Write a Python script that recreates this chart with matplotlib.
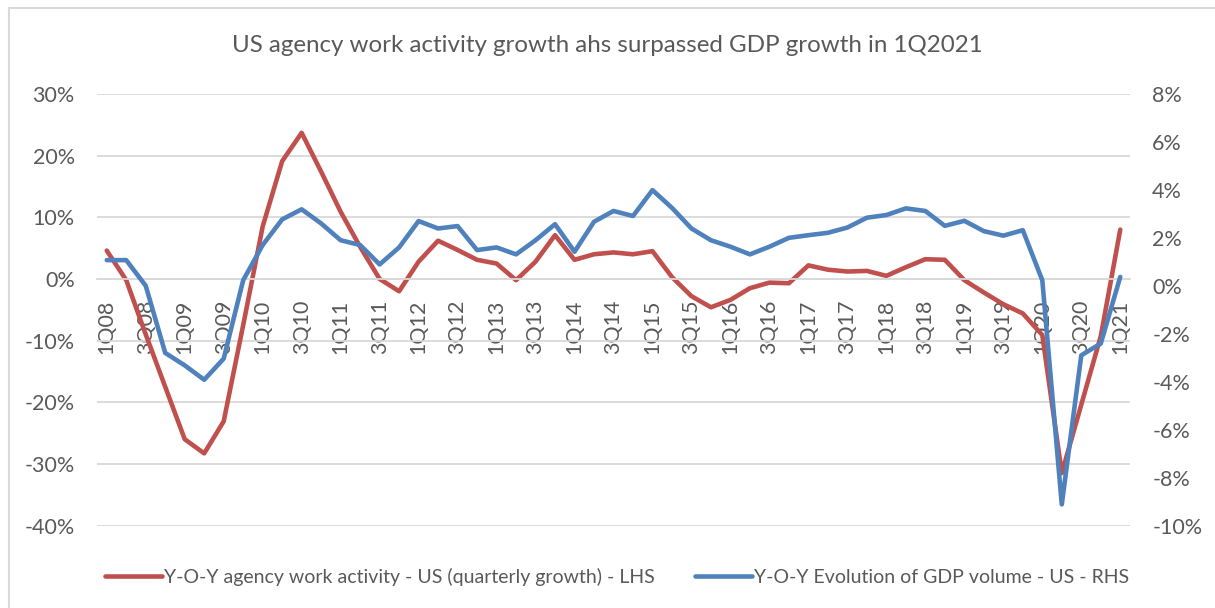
import matplotlib.pyplot as plt
from matplotlib.patches import Rectangle
from matplotlib.ticker import FuncFormatter

# quarters 1Q08 .. 1Q21
quarters = [f"{q}Q{y:02d}" for y in range(8, 21) for q in range(1, 5)] + ["1Q21"]

# Y-O-Y agency work activity, % (left axis)
agency = [4.6, -0.2, -9.0, -17.5,
          -26.0, -28.3, -23.1, -7.5,
          8.5, 19.1, 23.7, 17.4,
          10.9, 5.2, 0.0, -2.0,
          2.8, 6.2, 4.7, 3.1,
          2.5, -0.2, 2.8, 7.1,
          3.1, 4.0, 4.3, 4.0,
          4.5, 0.3, -2.8, -4.6,
          -3.4, -1.5, -0.6, -0.7,
          2.2, 1.5, 1.2, 1.3,
          0.5, 1.9, 3.2, 3.1,
          -0.2, -2.2, -4.1, -5.6,
          -9.1, -31.5, -20.4, -9.3,
          8.0]

# Y-O-Y GDP volume, % (right axis)
gdp = [1.07, 1.07, 0.0, -2.8,
       -3.32, -3.92, -3.04, 0.23,
       1.7, 2.77, 3.19, 2.6,
       1.9, 1.7, 0.89, 1.6,
       2.7, 2.39, 2.49, 1.49,
       1.6, 1.31, 1.9, 2.57,
       1.42, 2.67, 3.12, 2.91,
       3.99, 3.25, 2.39, 1.9,
       1.63, 1.31, 1.63, 2.0,
       2.11, 2.21, 2.43, 2.84,
       2.95, 3.23, 3.12, 2.5,
       2.71, 2.28, 2.09, 2.32,
       0.23, -9.12, -2.9, -2.41,
       0.37]

left_ticks = [30, 20, 10, 0, -10, -20, -30, -40]
right_ticks = [8, 6, 4, 2, 0, -2, -4, -6, -8, -10]

plt.rcParams['font.family'] = ['Lato', 'DejaVu Sans']
txt = '#595959'
grid = '#d9d9d9'
red = '#c0504d'
blue = '#4f81bd'

fig = plt.figure(figsize=(12.15, 6.08), dpi=100)
ax = fig.add_axes([97 / 1215, 1 - 525.5 / 608, (1130 - 97) / 1215, (525.5 - 94) / 608])
ax2 = ax.twinx()

x = list(range(len(quarters)))
l1, = ax.plot(x, agency, color=red, lw=3.3, solid_capstyle='round',
              label='Y-O-Y agency work activity - US (quarterly growth) - LHS')
l2, = ax2.plot(x, gdp, color=blue, lw=3.3, solid_capstyle='round',
               label='Y-O-Y Evolution of GDP volume - US - RHS')

ax.set_xlim(-0.5, len(quarters) - 0.5)
ax.set_ylim(-40, 30)
ax2.set_ylim(-10, 8)
ax.set_yticks(left_ticks)
ax2.set_yticks(right_ticks)
ax.yaxis.set_major_formatter(FuncFormatter(lambda v, p: f"{v:.0f}%"))
ax2.yaxis.set_major_formatter(FuncFormatter(lambda v, p: f"{v:.0f}%"))
ax.grid(axis='y', color=grid, lw=1.3)
ax.set_axisbelow(True)

for a in (ax, ax2):
    for s in a.spines.values():
        s.set_visible(False)
    a.tick_params(axis='y', length=0, labelsize=15.5, labelcolor=txt, pad=16)

# category labels sit just below the zero line
ax.spines['bottom'].set_visible(True)
ax.spines['bottom'].set_position(('data', 0))
ax.spines['bottom'].set_color(grid)
ax.spines['bottom'].set_linewidth(1.3)
ax.set_xticks(x[::2])
ax.set_xticklabels(quarters[::2], rotation=90, va='top', ha='center')
ax.tick_params(axis='x', length=0, labelsize=15.5, labelcolor=txt, pad=15)

fig.text(0.5, 1 - 45 / 608, 'US agency work activity growth ahs surpassed GDP growth in 1Q2021',
         ha='center', va='center', fontsize=17.4, color=txt)

fig.legend(handles=[l1, l2], loc='center', bbox_to_anchor=(617 / 1215, 1 - 577 / 608),
           ncol=2, frameon=False, fontsize=14, labelcolor=txt,
           handlelength=2.9, handletextpad=0.1, columnspacing=2.1)

fig.patches.append(Rectangle((9 / 1215, -0.05), 1.1, 1 - 8 / 608 + 0.05,
                             transform=fig.transFigure, fill=False,
                             edgecolor=grid, lw=1.5))

fig.savefig('out.png', dpi=100)
